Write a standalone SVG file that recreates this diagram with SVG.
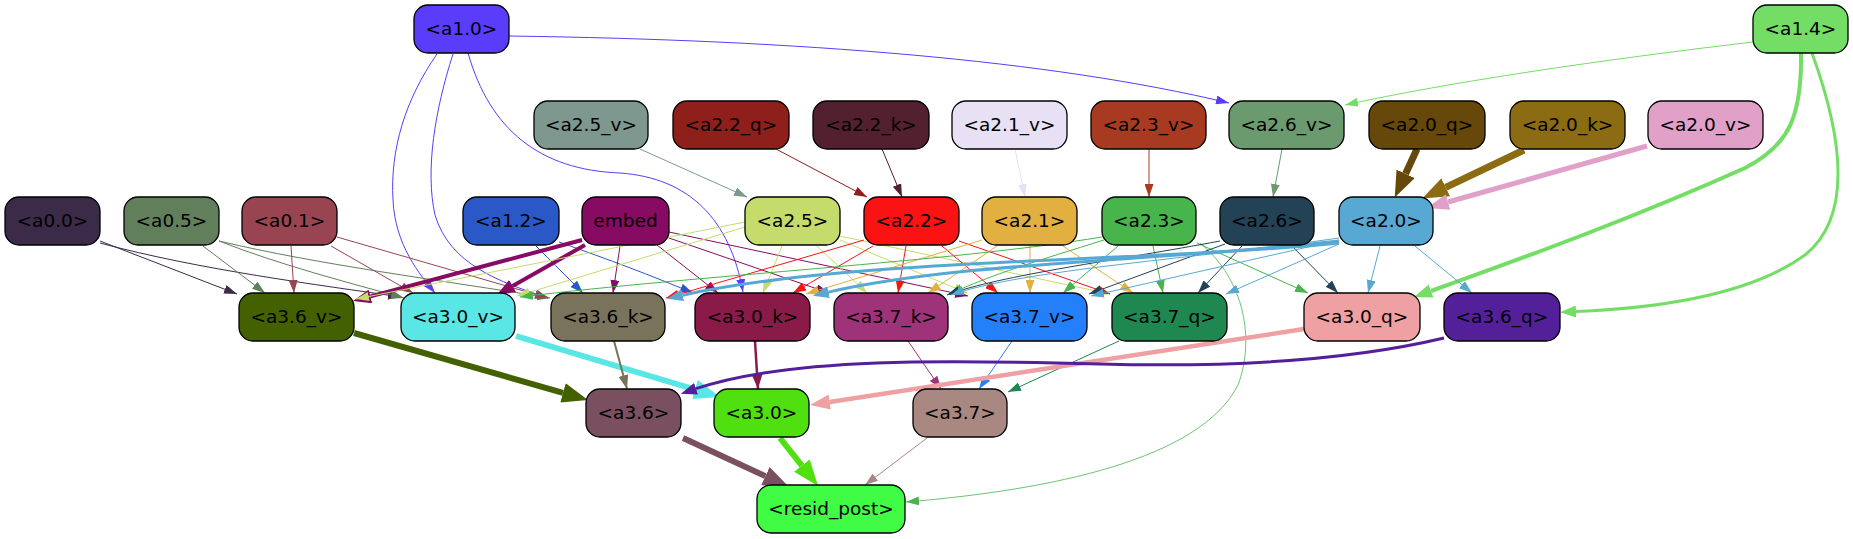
<svg xmlns="http://www.w3.org/2000/svg" width="1853" height="539" viewBox="0 0 1853 539">
<style>
.node rect{stroke:#000;stroke-width:1.3}
.node text{font-family:"DejaVu Sans","Liberation Sans",sans-serif;font-size:18.5px;text-anchor:middle;fill:#000}
#edges path{fill:none}
</style>
<defs>
<marker id="t5a3cfb" viewBox="0 0 13 9" refX="13" refY="4.5" markerWidth="13" markerHeight="9" markerUnits="userSpaceOnUse" orient="auto"><path d="M0,0L13,4.5L0,9z" fill="#5a3cfb"/></marker>
<marker id="t74dd65" viewBox="0 0 13 9" refX="13" refY="4.5" markerWidth="13" markerHeight="9" markerUnits="userSpaceOnUse" orient="auto"><path d="M0,0L13,4.5L0,9z" fill="#74dd65"/></marker>
<marker id="t7e9890" viewBox="0 0 13 9" refX="13" refY="4.5" markerWidth="13" markerHeight="9" markerUnits="userSpaceOnUse" orient="auto"><path d="M0,0L13,4.5L0,9z" fill="#7e9890"/></marker>
<marker id="t8f1f1a" viewBox="0 0 13 9" refX="13" refY="4.5" markerWidth="13" markerHeight="9" markerUnits="userSpaceOnUse" orient="auto"><path d="M0,0L13,4.5L0,9z" fill="#8f1f1a"/></marker>
<marker id="t52202e" viewBox="0 0 13 9" refX="13" refY="4.5" markerWidth="13" markerHeight="9" markerUnits="userSpaceOnUse" orient="auto"><path d="M0,0L13,4.5L0,9z" fill="#52202e"/></marker>
<marker id="te8e0f4" viewBox="0 0 13 9" refX="13" refY="4.5" markerWidth="13" markerHeight="9" markerUnits="userSpaceOnUse" orient="auto"><path d="M0,0L13,4.5L0,9z" fill="#e8e0f4"/></marker>
<marker id="ta93a22" viewBox="0 0 13 9" refX="13" refY="4.5" markerWidth="13" markerHeight="9" markerUnits="userSpaceOnUse" orient="auto"><path d="M0,0L13,4.5L0,9z" fill="#a93a22"/></marker>
<marker id="t6a9a6e" viewBox="0 0 13 9" refX="13" refY="4.5" markerWidth="13" markerHeight="9" markerUnits="userSpaceOnUse" orient="auto"><path d="M0,0L13,4.5L0,9z" fill="#6a9a6e"/></marker>
<marker id="t3c2b48" viewBox="0 0 13 9" refX="13" refY="4.5" markerWidth="13" markerHeight="9" markerUnits="userSpaceOnUse" orient="auto"><path d="M0,0L13,4.5L0,9z" fill="#3c2b48"/></marker>
<marker id="t617f5b" viewBox="0 0 13 9" refX="13" refY="4.5" markerWidth="13" markerHeight="9" markerUnits="userSpaceOnUse" orient="auto"><path d="M0,0L13,4.5L0,9z" fill="#617f5b"/></marker>
<marker id="t984451" viewBox="0 0 13 9" refX="13" refY="4.5" markerWidth="13" markerHeight="9" markerUnits="userSpaceOnUse" orient="auto"><path d="M0,0L13,4.5L0,9z" fill="#984451"/></marker>
<marker id="t2a58c6" viewBox="0 0 13 9" refX="13" refY="4.5" markerWidth="13" markerHeight="9" markerUnits="userSpaceOnUse" orient="auto"><path d="M0,0L13,4.5L0,9z" fill="#2a58c6"/></marker>
<marker id="t870b62" viewBox="0 0 13 9" refX="13" refY="4.5" markerWidth="13" markerHeight="9" markerUnits="userSpaceOnUse" orient="auto"><path d="M0,0L13,4.5L0,9z" fill="#870b62"/></marker>
<marker id="tc5dc6c" viewBox="0 0 13 9" refX="13" refY="4.5" markerWidth="13" markerHeight="9" markerUnits="userSpaceOnUse" orient="auto"><path d="M0,0L13,4.5L0,9z" fill="#c5dc6c"/></marker>
<marker id="tfb1212" viewBox="0 0 13 9" refX="13" refY="4.5" markerWidth="13" markerHeight="9" markerUnits="userSpaceOnUse" orient="auto"><path d="M0,0L13,4.5L0,9z" fill="#fb1212"/></marker>
<marker id="te2b040" viewBox="0 0 13 9" refX="13" refY="4.5" markerWidth="13" markerHeight="9" markerUnits="userSpaceOnUse" orient="auto"><path d="M0,0L13,4.5L0,9z" fill="#e2b040"/></marker>
<marker id="t47b44c" viewBox="0 0 13 9" refX="13" refY="4.5" markerWidth="13" markerHeight="9" markerUnits="userSpaceOnUse" orient="auto"><path d="M0,0L13,4.5L0,9z" fill="#47b44c"/></marker>
<marker id="t234255" viewBox="0 0 13 9" refX="13" refY="4.5" markerWidth="13" markerHeight="9" markerUnits="userSpaceOnUse" orient="auto"><path d="M0,0L13,4.5L0,9z" fill="#234255"/></marker>
<marker id="t58a8d4" viewBox="0 0 13 9" refX="13" refY="4.5" markerWidth="13" markerHeight="9" markerUnits="userSpaceOnUse" orient="auto"><path d="M0,0L13,4.5L0,9z" fill="#58a8d4"/></marker>
<marker id="t9e337a" viewBox="0 0 13 9" refX="13" refY="4.5" markerWidth="13" markerHeight="9" markerUnits="userSpaceOnUse" orient="auto"><path d="M0,0L13,4.5L0,9z" fill="#9e337a"/></marker>
<marker id="t2480fa" viewBox="0 0 13 9" refX="13" refY="4.5" markerWidth="13" markerHeight="9" markerUnits="userSpaceOnUse" orient="auto"><path d="M0,0L13,4.5L0,9z" fill="#2480fa"/></marker>
<marker id="t1e8850" viewBox="0 0 13 9" refX="13" refY="4.5" markerWidth="13" markerHeight="9" markerUnits="userSpaceOnUse" orient="auto"><path d="M0,0L13,4.5L0,9z" fill="#1e8850"/></marker>
<marker id="taa8882" viewBox="0 0 13 9" refX="13" refY="4.5" markerWidth="13" markerHeight="9" markerUnits="userSpaceOnUse" orient="auto"><path d="M0,0L13,4.5L0,9z" fill="#aa8882"/></marker>
<marker id="m7a735c" viewBox="0 0 14 10" refX="14" refY="5" markerWidth="14" markerHeight="10" markerUnits="userSpaceOnUse" orient="auto"><path d="M0,0L14,5L0,10z" fill="#7a735c"/></marker>
<marker id="m8a1b48" viewBox="0 0 15 11" refX="15" refY="5.5" markerWidth="15" markerHeight="11" markerUnits="userSpaceOnUse" orient="auto"><path d="M0,0L15,5.5L0,11z" fill="#8a1b48"/></marker>
<marker id="k74dd65a" viewBox="0 0 18 14" refX="0" refY="7" markerWidth="18" markerHeight="14" markerUnits="userSpaceOnUse" orient="auto"><path d="M0,0L18,7L0,14z" fill="#74dd65"/></marker>
<marker id="k74dd65b" viewBox="0 0 16 12" refX="0" refY="6" markerWidth="16" markerHeight="12" markerUnits="userSpaceOnUse" orient="auto"><path d="M0,0L16,6L0,12z" fill="#74dd65"/></marker>
<marker id="k65480a" viewBox="0 0 26 20" refX="0" refY="10" markerWidth="26" markerHeight="20" markerUnits="userSpaceOnUse" orient="auto"><path d="M0,0L26,10L0,20z" fill="#65480a"/></marker>
<marker id="k8b6c12" viewBox="0 0 26 20" refX="0" refY="10" markerWidth="26" markerHeight="20" markerUnits="userSpaceOnUse" orient="auto"><path d="M0,0L26,10L0,20z" fill="#8b6c12"/></marker>
<marker id="ke0a0c8" viewBox="0 0 22 16" refX="0" refY="8" markerWidth="22" markerHeight="16" markerUnits="userSpaceOnUse" orient="auto"><path d="M0,0L22,8L0,16z" fill="#e0a0c8"/></marker>
<marker id="k870b62" viewBox="0 0 18 14" refX="0" refY="7" markerWidth="18" markerHeight="14" markerUnits="userSpaceOnUse" orient="auto"><path d="M0,0L18,7L0,14z" fill="#870b62"/></marker>
<marker id="k58a8d4" viewBox="0 0 16 12" refX="0" refY="6" markerWidth="16" markerHeight="12" markerUnits="userSpaceOnUse" orient="auto"><path d="M0,0L16,6L0,12z" fill="#58a8d4"/></marker>
<marker id="k446102" viewBox="0 0 26 20" refX="0" refY="10" markerWidth="26" markerHeight="20" markerUnits="userSpaceOnUse" orient="auto"><path d="M0,0L26,10L0,20z" fill="#446102"/></marker>
<marker id="k5ae6e4" viewBox="0 0 26 20" refX="0" refY="10" markerWidth="26" markerHeight="20" markerUnits="userSpaceOnUse" orient="auto"><path d="M0,0L26,10L0,20z" fill="#5ae6e4"/></marker>
<marker id="keea0a2" viewBox="0 0 20 15" refX="0" refY="7.5" markerWidth="20" markerHeight="15" markerUnits="userSpaceOnUse" orient="auto"><path d="M0,0L20,7.5L0,15z" fill="#eea0a2"/></marker>
<marker id="k54209a" viewBox="0 0 16 12" refX="0" refY="6" markerWidth="16" markerHeight="12" markerUnits="userSpaceOnUse" orient="auto"><path d="M0,0L16,6L0,12z" fill="#54209a"/></marker>
<marker id="k7a5060" viewBox="0 0 26 20" refX="0" refY="10" markerWidth="26" markerHeight="20" markerUnits="userSpaceOnUse" orient="auto"><path d="M0,0L26,10L0,20z" fill="#7a5060"/></marker>
<marker id="k50e010" viewBox="0 0 26 20" refX="0" refY="10" markerWidth="26" markerHeight="20" markerUnits="userSpaceOnUse" orient="auto"><path d="M0,0L26,10L0,20z" fill="#50e010"/></marker>
</defs>
<rect width="1853" height="539" fill="#fff"/>
<g id="edges">
<path d="M509,36 C800,40 1050,60 1229,103" stroke="#5a3cfb" marker-end="url(#t5a3cfb)"/>
<path d="M437,54 C405,100 390,150 393,200 C395,245 420,275 435,293" stroke="#5a3cfb" marker-end="url(#t5a3cfb)"/>
<path d="M453,54 C435,110 425,170 435,215 C450,265 500,282 548,298" stroke="#5a3cfb" marker-end="url(#t5a3cfb)"/>
<path d="M468,53 C490,130 540,170 620,173 C690,178 730,220 743,292" stroke="#5a3cfb" marker-end="url(#t5a3cfb)"/>
<path d="M1753,42 C1600,60 1450,82 1345,105" stroke="#74dd65" marker-end="url(#t74dd65)"/>
<path d="M1801,53 C1802,115 1790,145 1745,168 C1640,215 1540,252 1431,291" stroke="#74dd65" stroke-width="4" marker-end="url(#k74dd65a)"/>
<path d="M1812,53 C1840,130 1855,215 1805,255 C1750,295 1660,308 1576,311.5" stroke="#74dd65" stroke-width="3" marker-end="url(#k74dd65b)"/>
<path d="M640,149 L747,197" stroke="#7e9890" marker-end="url(#t7e9890)"/>
<path d="M776,149 L867,197" stroke="#8f1f1a" marker-end="url(#t8f1f1a)"/>
<path d="M882,149 L902,197" stroke="#52202e" marker-end="url(#t52202e)"/>
<path d="M1015,149 L1025,197" stroke="#e8e0f4" marker-end="url(#te8e0f4)"/>
<path d="M1149,149 L1149,197" stroke="#a93a22" marker-end="url(#ta93a22)"/>
<path d="M1282,149 L1273,197" stroke="#6a9a6e" marker-end="url(#t6a9a6e)"/>
<path d="M1417,149 L1405.6,173.8" stroke="#65480a" stroke-width="7" marker-end="url(#k65480a)"/>
<path d="M1524,150 L1445.7,187.3" stroke="#8b6c12" stroke-width="7" marker-end="url(#k8b6c12)"/>
<path d="M1647,146 L1448,202" stroke="#e0a0c8" stroke-width="5" marker-end="url(#ke0a0c8)"/>
<path d="M100,241 L237,294" stroke="#3c2b48" marker-end="url(#t3c2b48)"/>
<path d="M100,243 C200,270 320,285 401,297" stroke="#3c2b48" marker-end="url(#t3c2b48)"/>
<path d="M203,246 L265,293" stroke="#617f5b" marker-end="url(#t617f5b)"/>
<path d="M219,241 C280,265 350,283 404,298" stroke="#617f5b" marker-end="url(#t617f5b)"/>
<path d="M219,241 C320,265 440,280 550,298" stroke="#617f5b" marker-end="url(#t617f5b)"/>
<path d="M291,246 L294,293" stroke="#984451" marker-end="url(#t984451)"/>
<path d="M331,246 L413,293" stroke="#984451" marker-end="url(#t984451)"/>
<path d="M337,237 L548,298" stroke="#984451" marker-end="url(#t984451)"/>
<path d="M536,246 L583,293" stroke="#2a58c6" marker-end="url(#t2a58c6)"/>
<path d="M559,242 C610,260 650,275 693,293" stroke="#2a58c6" marker-end="url(#t2a58c6)"/>
<path d="M582,240 L370.4,296.4" stroke="#870b62" stroke-width="4" marker-end="url(#k870b62)"/>
<path d="M585,245 L512.6,286" stroke="#870b62" stroke-width="4" marker-end="url(#k870b62)"/>
<path d="M620,246 L613,293" stroke="#870b62" marker-end="url(#t870b62)"/>
<path d="M657,245 L718,293" stroke="#870b62" marker-end="url(#t870b62)"/>
<path d="M669,238 L829,293" stroke="#870b62" marker-end="url(#t870b62)"/>
<path d="M669,232 L968,296" stroke="#870b62" marker-end="url(#t870b62)"/>
<path d="M745,227 L517,296" stroke="#c5dc6c" marker-end="url(#tc5dc6c)"/>
<path d="M745,222 L356,299" stroke="#c5dc6c" marker-end="url(#tc5dc6c)"/>
<path d="M782,246 L763,293" stroke="#c5dc6c" marker-end="url(#tc5dc6c)"/>
<path d="M817,246 L867,293" stroke="#c5dc6c" marker-end="url(#tc5dc6c)"/>
<path d="M840,240 L967,293" stroke="#c5dc6c" marker-end="url(#tc5dc6c)"/>
<path d="M840,236 L1110,294" stroke="#c5dc6c" marker-end="url(#tc5dc6c)"/>
<path d="M864,240 L666,298" stroke="#fb1212" marker-end="url(#tfb1212)"/>
<path d="M873,246 L793,293" stroke="#fb1212" marker-end="url(#tfb1212)"/>
<path d="M906,246 L898,293" stroke="#fb1212" marker-end="url(#tfb1212)"/>
<path d="M942,246 L998,293" stroke="#fb1212" marker-end="url(#tfb1212)"/>
<path d="M959,241 L1110,294" stroke="#fb1212" marker-end="url(#tfb1212)"/>
<path d="M997,246 L928,293" stroke="#e2b040" marker-end="url(#te2b040)"/>
<path d="M1030,246 L1030,293" stroke="#e2b040" marker-end="url(#te2b040)"/>
<path d="M1063,246 L1133,293" stroke="#e2b040" marker-end="url(#te2b040)"/>
<path d="M982,240 L806,294" stroke="#e2b040" marker-end="url(#te2b040)"/>
<path d="M1102,237 C950,262 700,275 520,297" stroke="#47b44c" marker-end="url(#t47b44c)"/>
<path d="M1104,240 C1040,260 990,275 950,294" stroke="#47b44c" marker-end="url(#t47b44c)"/>
<path d="M1118,246 L1063,293" stroke="#47b44c" marker-end="url(#t47b44c)"/>
<path d="M1153,246 L1163,293" stroke="#47b44c" marker-end="url(#t47b44c)"/>
<path d="M1197,243 L1308,293" stroke="#47b44c" marker-end="url(#t47b44c)"/>
<path d="M1200,243 C1245,280 1255,340 1238,385 C1200,460 1050,490 906,502" stroke="#47b44c" stroke-width="0.8" marker-end="url(#t47b44c)"/>
<path d="M1220,241 C1120,260 1000,275 947,295" stroke="#234255" marker-end="url(#t234255)"/>
<path d="M1225,244 L1089,294" stroke="#234255" marker-end="url(#t234255)"/>
<path d="M1242,246 L1198,293" stroke="#234255" marker-end="url(#t234255)"/>
<path d="M1292,246 L1338,293" stroke="#234255" marker-end="url(#t234255)"/>
<path d="M1339,241 C1150,262 960,262 828.5,292.1" stroke="#58a8d4" stroke-width="3" marker-end="url(#k58a8d4)"/>
<path d="M1339,243 C1150,262 850,258 682.7,295.2" stroke="#58a8d4" stroke-width="3" marker-end="url(#k58a8d4)"/>
<path d="M1339,238 C1200,258 1020,270 951,295" stroke="#58a8d4" marker-end="url(#t58a8d4)"/>
<path d="M1339,240 L1091,296" stroke="#58a8d4" marker-end="url(#t58a8d4)"/>
<path d="M1339,244 L1226,294" stroke="#58a8d4" marker-end="url(#t58a8d4)"/>
<path d="M1380,246 L1368,293" stroke="#58a8d4" marker-end="url(#t58a8d4)"/>
<path d="M1415,246 L1472,293" stroke="#58a8d4" marker-end="url(#t58a8d4)"/>
<path d="M354,333 L563,392.8" stroke="#446102" stroke-width="6" marker-end="url(#k446102)"/>
<path d="M516,336 L695,389.5" stroke="#5ae6e4" stroke-width="6" marker-end="url(#k5ae6e4)"/>
<path d="M614,341 L627,389" stroke="#7a735c" stroke-width="2" marker-end="url(#m7a735c)"/>
<path d="M755,341 L758,389" stroke="#8a1b48" stroke-width="2.5" marker-end="url(#m8a1b48)"/>
<path d="M908,341 L941,389" stroke="#9e337a" marker-end="url(#t9e337a)"/>
<path d="M1012,341 L979,389" stroke="#2480fa" marker-end="url(#t2480fa)"/>
<path d="M1119,341 L1008,392" stroke="#1e8850" marker-end="url(#t1e8850)"/>
<path d="M1304,329 L829.8,402" stroke="#eea0a2" stroke-width="4.5" marker-end="url(#keea0a2)"/>
<path d="M1444,338 C1360,358 1250,368 1100,364 C950,360 790,357 696,388.7" stroke="#54209a" stroke-width="3" marker-end="url(#k54209a)"/>
<path d="M683,438 L765.4,476.1" stroke="#7a5060" stroke-width="6" marker-end="url(#k7a5060)"/>
<path d="M780,438 L801.9,465.6" stroke="#50e010" stroke-width="6" marker-end="url(#k50e010)"/>
<path d="M927,438 L865,485" stroke="#aa8882" marker-end="url(#taa8882)"/>
</g>
<g id="n-a1.0" class="node"><rect x="414" y="5" width="95" height="48" rx="14" fill="#5a3cfb"/><text x="461.5" y="35">&lt;a1.0&gt;</text></g>
<g id="n-a1.4" class="node"><rect x="1753" y="5" width="95" height="48" rx="14" fill="#74dd65"/><text x="1800.5" y="35">&lt;a1.4&gt;</text></g>
<g id="n-a2.5_v" class="node"><rect x="534" y="101" width="114" height="48" rx="14" fill="#7e9890"/><text x="591" y="131">&lt;a2.5_v&gt;</text></g>
<g id="n-a2.2_q" class="node"><rect x="673" y="101" width="116" height="48" rx="14" fill="#8f1f1a"/><text x="731" y="131">&lt;a2.2_q&gt;</text></g>
<g id="n-a2.2_k" class="node"><rect x="813" y="101" width="116" height="48" rx="14" fill="#52202e"/><text x="871" y="131">&lt;a2.2_k&gt;</text></g>
<g id="n-a2.1_v" class="node"><rect x="952" y="101" width="115" height="48" rx="14" fill="#e8e0f4"/><text x="1009.5" y="131">&lt;a2.1_v&gt;</text></g>
<g id="n-a2.3_v" class="node"><rect x="1091" y="101" width="115" height="48" rx="14" fill="#a93a22"/><text x="1148.5" y="131">&lt;a2.3_v&gt;</text></g>
<g id="n-a2.6_v" class="node"><rect x="1229" y="101" width="115" height="48" rx="14" fill="#6a9a6e"/><text x="1286.5" y="131">&lt;a2.6_v&gt;</text></g>
<g id="n-a2.0_q" class="node"><rect x="1369" y="101" width="116" height="48" rx="14" fill="#65480a"/><text x="1427" y="131">&lt;a2.0_q&gt;</text></g>
<g id="n-a2.0_k" class="node"><rect x="1510" y="101" width="115" height="48" rx="14" fill="#8b6c12"/><text x="1567.5" y="131">&lt;a2.0_k&gt;</text></g>
<g id="n-a2.0_v" class="node"><rect x="1648" y="101" width="115" height="48" rx="14" fill="#e0a0c8"/><text x="1705.5" y="131">&lt;a2.0_v&gt;</text></g>
<g id="n-a0.0" class="node"><rect x="5" y="197" width="95" height="48" rx="14" fill="#3c2b48"/><text x="52.5" y="227">&lt;a0.0&gt;</text></g>
<g id="n-a0.5" class="node"><rect x="124" y="197" width="95" height="48" rx="14" fill="#617f5b"/><text x="171.5" y="227">&lt;a0.5&gt;</text></g>
<g id="n-a0.1" class="node"><rect x="242" y="197" width="95" height="48" rx="14" fill="#984451"/><text x="289.5" y="227">&lt;a0.1&gt;</text></g>
<g id="n-a1.2" class="node"><rect x="463" y="197" width="96" height="48" rx="14" fill="#2a58c6"/><text x="511" y="227">&lt;a1.2&gt;</text></g>
<g id="n-embed" class="node"><rect x="582" y="197" width="87" height="48" rx="14" fill="#870b62"/><text x="625.5" y="227">embed</text></g>
<g id="n-a2.5" class="node"><rect x="745" y="197" width="95" height="48" rx="14" fill="#c5dc6c"/><text x="792.5" y="227">&lt;a2.5&gt;</text></g>
<g id="n-a2.2" class="node"><rect x="864" y="197" width="95" height="48" rx="14" fill="#fb1212"/><text x="911.5" y="227">&lt;a2.2&gt;</text></g>
<g id="n-a2.1" class="node"><rect x="982" y="197" width="95" height="48" rx="14" fill="#e2b040"/><text x="1029.5" y="227">&lt;a2.1&gt;</text></g>
<g id="n-a2.3" class="node"><rect x="1102" y="197" width="94" height="48" rx="14" fill="#47b44c"/><text x="1149" y="227">&lt;a2.3&gt;</text></g>
<g id="n-a2.6" class="node"><rect x="1220" y="197" width="94" height="48" rx="14" fill="#234255"/><text x="1267" y="227">&lt;a2.6&gt;</text></g>
<g id="n-a2.0" class="node"><rect x="1339" y="197" width="94" height="48" rx="14" fill="#58a8d4"/><text x="1386" y="227">&lt;a2.0&gt;</text></g>
<g id="n-a3.6_v" class="node"><rect x="239" y="293" width="115" height="48" rx="14" fill="#446102"/><text x="296.5" y="323">&lt;a3.6_v&gt;</text></g>
<g id="n-a3.0_v" class="node"><rect x="401" y="293" width="114" height="48" rx="14" fill="#5ae6e4"/><text x="458" y="323">&lt;a3.0_v&gt;</text></g>
<g id="n-a3.6_k" class="node"><rect x="551" y="293" width="114" height="48" rx="14" fill="#7a735c"/><text x="608" y="323">&lt;a3.6_k&gt;</text></g>
<g id="n-a3.0_k" class="node"><rect x="695" y="293" width="115" height="48" rx="14" fill="#8a1b48"/><text x="752.5" y="323">&lt;a3.0_k&gt;</text></g>
<g id="n-a3.7_k" class="node"><rect x="834" y="293" width="114" height="48" rx="14" fill="#9e337a"/><text x="891" y="323">&lt;a3.7_k&gt;</text></g>
<g id="n-a3.7_v" class="node"><rect x="972" y="293" width="115" height="48" rx="14" fill="#2480fa"/><text x="1029.5" y="323">&lt;a3.7_v&gt;</text></g>
<g id="n-a3.7_q" class="node"><rect x="1112" y="293" width="115" height="48" rx="14" fill="#1e8850"/><text x="1169.5" y="323">&lt;a3.7_q&gt;</text></g>
<g id="n-a3.0_q" class="node"><rect x="1304" y="293" width="116" height="48" rx="14" fill="#eea0a2"/><text x="1362" y="323">&lt;a3.0_q&gt;</text></g>
<g id="n-a3.6_q" class="node"><rect x="1444" y="293" width="116" height="48" rx="14" fill="#54209a"/><text x="1502" y="323">&lt;a3.6_q&gt;</text></g>
<g id="n-a3.6" class="node"><rect x="586" y="389" width="95" height="48" rx="14" fill="#7a5060"/><text x="633.5" y="419">&lt;a3.6&gt;</text></g>
<g id="n-a3.0" class="node"><rect x="714" y="389" width="95" height="48" rx="14" fill="#50e010"/><text x="761.5" y="419">&lt;a3.0&gt;</text></g>
<g id="n-a3.7" class="node"><rect x="913" y="389" width="94" height="48" rx="14" fill="#aa8882"/><text x="960" y="419">&lt;a3.7&gt;</text></g>
<g id="n-resid_post" class="node"><rect x="757" y="485" width="148" height="48" rx="14" fill="#40fc44"/><text x="831" y="515">&lt;resid_post&gt;</text></g>
</svg>
